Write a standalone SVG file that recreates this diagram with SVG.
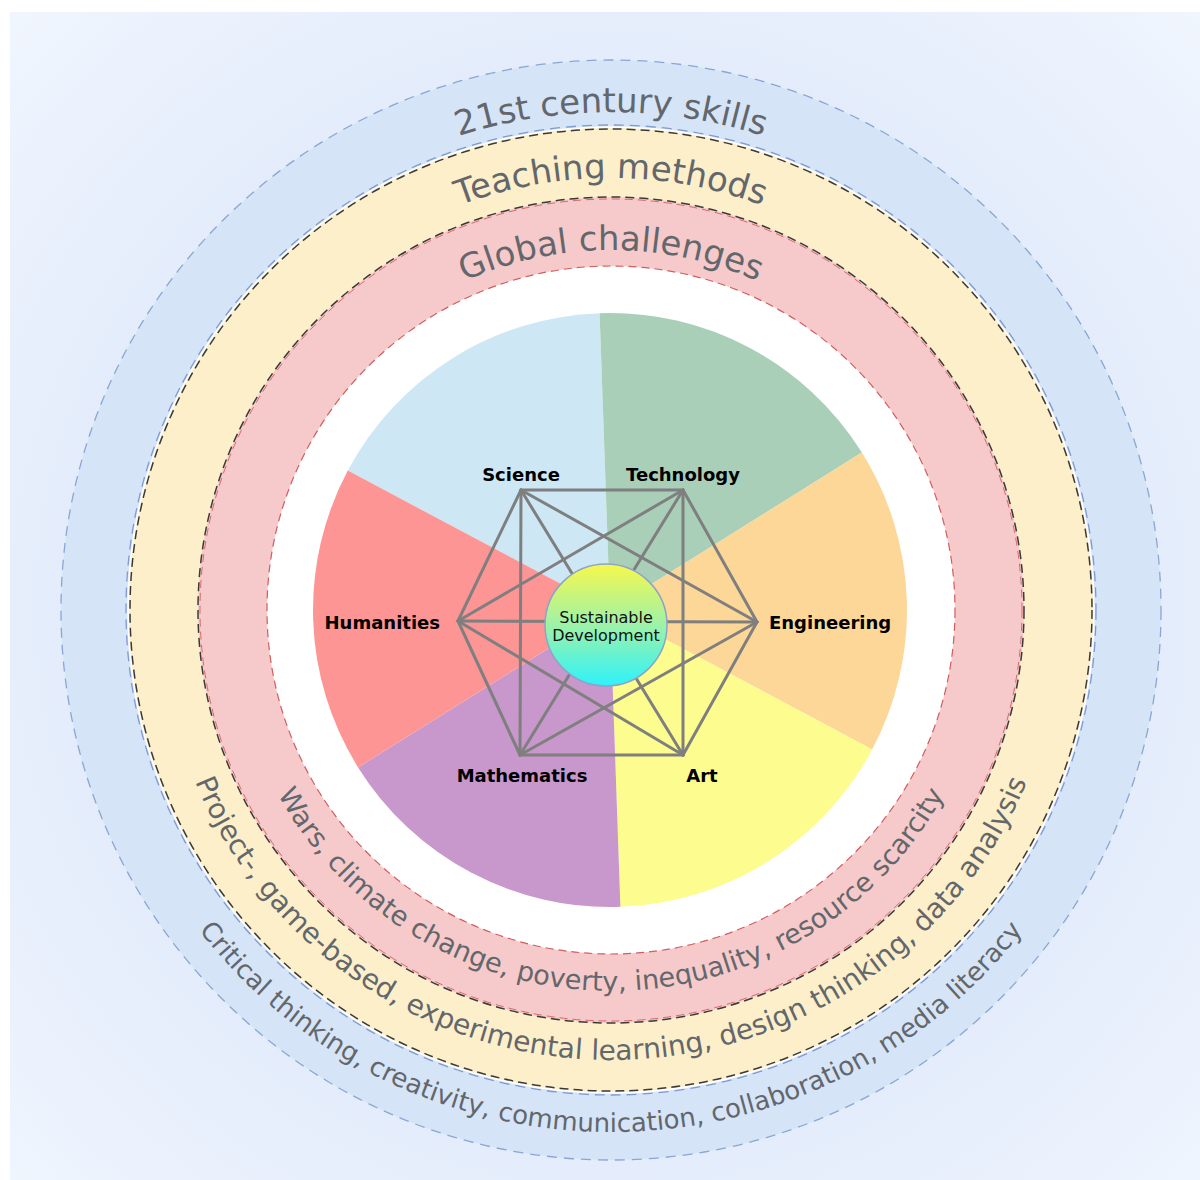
<svg xmlns="http://www.w3.org/2000/svg" width="1200" height="1180" viewBox="0 0 1200 1180">
  <defs>
    <radialGradient id="bgGrad" gradientUnits="userSpaceOnUse" cx="611" cy="610" r="860">
      <stop offset="0" stop-color="#d9e6f9"/>
      <stop offset="0.62" stop-color="#e3ecfb"/>
      <stop offset="1" stop-color="#f1f6fe"/>
    </radialGradient>
    <linearGradient id="coreGrad" x1="0" y1="0" x2="0" y2="1">
      <stop offset="0" stop-color="#f6f84c"/>
      <stop offset="0.5" stop-color="#9ef2a8"/>
      <stop offset="1" stop-color="#2ef2fa"/>
    </linearGradient>
    <!-- text baselines: top arcs run clockwise, bottom arcs counter-clockwise -->
    <path id="arcSkillsTop" d="M 113,610 A 498 498 0 0 1 1109,610"/>
    <path id="arcMethodsTop" d="M 179,610 A 432 432 0 0 1 1043,610"/>
    <path id="arcChallengesTop" d="M 251,610 A 360 360 0 0 1 971,610"/>
    <path id="arcChallengesBottom" d="M 230,610 A 381 381 0 0 0 992,610"/>
    <path id="arcMethodsBottom" d="M 161,610 A 450 450 0 0 0 1061,610"/>
    <path id="arcSkillsBottom" d="M 89,610 A 522 522 0 0 0 1133,610"/>
  </defs>
  <style>
    .ring-title { font-family: "DejaVu Sans", Verdana, sans-serif; font-size: 34px; fill: #63676c; }
    .ring-list { font-family: "DejaVu Sans", Verdana, sans-serif; fill: #63676c; }
    .label { font-family: "DejaVu Sans", Verdana, sans-serif; font-weight: bold; font-size: 18px; fill: #000; }
    .core-text { font-family: "DejaVu Sans", Verdana, sans-serif; font-size: 16px; fill: #111; text-anchor: middle; }
    .edge { stroke: #7f7f7f; stroke-width: 3; stroke-linecap: round; }
  </style>

  <!-- backdrop -->
  <rect x="10" y="12" width="1190" height="1168" fill="url(#bgGrad)"/>

  <!-- concentric rings -->
  <g id="rings">
    <circle cx="611" cy="610" r="550" fill="#d6e4f8" stroke="#8ba6d2" stroke-width="1.3" stroke-dasharray="10 7"/>
    <circle cx="611" cy="610" r="485" fill="none" stroke="#7d9bd0" stroke-width="1.3" stroke-dasharray="10 6"/>
    <circle cx="611" cy="610" r="483" fill="#fdefc9" stroke="#ffffff" stroke-width="1.5"/>
    <circle cx="611" cy="610" r="481" fill="none" stroke="#3a3a3a" stroke-width="1.5" stroke-dasharray="9 5"/>
    <circle cx="611" cy="610" r="413" fill="#f6caca" stroke="#3a3a3a" stroke-width="1.5" stroke-dasharray="9 5"/>
    <circle cx="611" cy="610" r="411" fill="none" stroke="#d66a6a" stroke-width="1" stroke-dasharray="8 5"/>
    <circle cx="611" cy="610" r="344" fill="#ffffff" stroke="#d25e5e" stroke-width="1.2" stroke-dasharray="8 5"/>
  </g>

  <!-- ring captions -->
  <g id="ring-captions">
    <text class="ring-title"><textPath href="#arcSkillsTop" startOffset="50%" text-anchor="middle">21st century skills</textPath></text>
    <text class="ring-title"><textPath href="#arcMethodsTop" startOffset="50%" text-anchor="middle">Teaching methods</textPath></text>
    <text class="ring-title"><textPath href="#arcChallengesTop" startOffset="50%" text-anchor="middle">Global challenges</textPath></text>
    <text class="ring-list" font-size="27"><textPath href="#arcChallengesBottom" startOffset="50%" text-anchor="middle">Wars, climate change, poverty, inequality, resource scarcity</textPath></text>
    <text class="ring-list" font-size="28"><textPath href="#arcMethodsBottom" startOffset="50%" text-anchor="middle">Project-, game-based, experimental learning, design thinking, data analysis</textPath></text>
    <text class="ring-list" font-size="26"><textPath href="#arcSkillsBottom" startOffset="50%" text-anchor="middle">Critical thinking, creativity, communication, collaboration, media literacy</textPath></text>
  </g>

  <!-- discipline wedges, 60 degrees each -->
  <g id="wedges">
    <path id="wedge-science" d="M 610,610 L 347.8,470.6 A 297 297 0 0 1 599.6,313.2 Z" fill="#cde7f4"/>
    <path id="wedge-technology" d="M 610,610 L 599.6,313.2 A 297 297 0 0 1 861.9,452.6 Z" fill="#a9cfb9"/>
    <path id="wedge-engineering" d="M 610,610 L 861.9,452.6 A 297 297 0 0 1 872.2,749.4 Z" fill="#fdd797"/>
    <path id="wedge-art" d="M 610,610 L 872.2,749.4 A 297 297 0 0 1 620.4,906.8 Z" fill="#fdfd8f"/>
    <path id="wedge-mathematics" d="M 610,610 L 620.4,906.8 A 297 297 0 0 1 358.1,767.4 Z" fill="#c897cb"/>
    <path id="wedge-humanities" d="M 610,610 L 358.1,767.4 A 297 297 0 0 1 347.8,470.6 Z" fill="#fd9595"/>
  </g>

  <!-- every discipline linked to every other -->
  <g id="connectors" class="edge">
    <line x1="521" y1="490" x2="683" y2="490"/>
    <line x1="521" y1="490" x2="757" y2="622"/>
    <line x1="521" y1="490" x2="683" y2="755"/>
    <line x1="521" y1="490" x2="520" y2="755"/>
    <line x1="521" y1="490" x2="458" y2="621"/>
    <line x1="683" y1="490" x2="757" y2="622"/>
    <line x1="683" y1="490" x2="683" y2="755"/>
    <line x1="683" y1="490" x2="520" y2="755"/>
    <line x1="683" y1="490" x2="458" y2="621"/>
    <line x1="757" y1="622" x2="683" y2="755"/>
    <line x1="757" y1="622" x2="520" y2="755"/>
    <line x1="757" y1="622" x2="458" y2="621"/>
    <line x1="683" y1="755" x2="520" y2="755"/>
    <line x1="683" y1="755" x2="458" y2="621"/>
    <line x1="520" y1="755" x2="458" y2="621"/>
  </g>

  <g id="node-science"><text class="label" x="521" y="481" text-anchor="middle">Science</text></g>
  <g id="node-technology"><text class="label" x="683" y="481" text-anchor="middle">Technology</text></g>
  <g id="node-engineering"><text class="label" x="769" y="629">Engineering</text></g>
  <g id="node-art"><text class="label" x="702" y="782" text-anchor="middle">Art</text></g>
  <g id="node-mathematics"><text class="label" x="522" y="782" text-anchor="middle">Mathematics</text></g>
  <g id="node-humanities"><text class="label" x="440" y="629" text-anchor="end">Humanities</text></g>

  <g id="node-sustainable-development">
    <circle cx="606" cy="625" r="61" fill="url(#coreGrad)" stroke="#8fa3c8" stroke-width="1.5"/>
    <text class="core-text" x="606" y="623">Sustainable</text>
    <text class="core-text" x="606" y="641">Development</text>
  </g>
</svg>
